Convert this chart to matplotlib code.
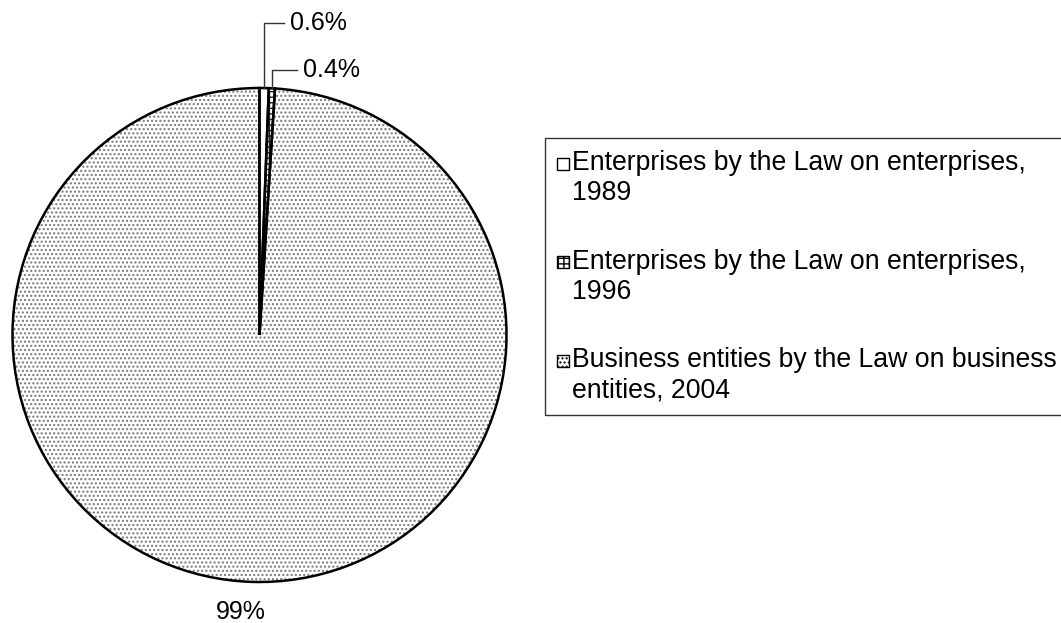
import matplotlib
matplotlib.use("Agg")
import matplotlib.pyplot as plt
from matplotlib.patches import Patch, Rectangle
from matplotlib.legend_handler import HandlerPatch
import numpy as np

plt.rcParams['font.family'] = ['Liberation Sans', 'DejaVu Sans']

categories = ["Enterprises by the Law on enterprises,\n1989",
              "Enterprises by the Law on enterprises,\n1996",
              "Business entities by the Law on business\nentities, 2004"]
values = [0.6, 0.4, 99.0]
value_labels = ["0.6%", "0.4%", "99%"]

hatches = [None, "+++", "...."]
hatch_colors = ["white", "#222222", "#777777"]

W, H = 1061, 623
fig = plt.figure(figsize=(W / 100, H / 100), dpi=100)
cx, cy, r = 259.5, 335, 247
ax = fig.add_axes([(cx - r) / W, (H - cy - r) / H, 2 * r / W, 2 * r / H])

plt.rcParams['hatch.linewidth'] = 1.0
wedges, _ = ax.pie(values, startangle=90, counterclock=False, radius=1,
                   colors=["white"] * 3, wedgeprops=dict(linewidth=0))
for w, h, hc in zip(wedges, hatches, hatch_colors):
    if h:
        w.set_hatch(h)
        w.set_edgecolor(hc)
ax.pie(values, startangle=90, counterclock=False, radius=1,
       wedgeprops=dict(fill=False, edgecolor="black", linewidth=1.8))
ax.set_xlim(-1, 1)
ax.set_ylim(-1, 1)
ax.set_aspect("auto")
ax.axis("off")

fs_lab = 18
label_pos = [(0.123, 1.263), (0.176, 1.073)]
for i, w in enumerate(wedges):
    mid = np.deg2rad((w.theta1 + w.theta2) / 2)
    xr, yr = np.cos(mid), np.sin(mid)
    if i < 2:
        tx, ty = label_pos[i]
        ax.plot([xr, xr, tx - 0.025], [yr, ty, ty], color="#333333", lw=1.0,
                clip_on=False)
        ax.text(tx, ty, value_labels[i], fontsize=fs_lab, ha="left",
                va="center", clip_on=False)
    else:
        ax.text(-0.075, -1.12, value_labels[i], fontsize=fs_lab, ha="center",
                va="center", clip_on=False)

fs = 19.2


def top_square(legend, orig_handle, xdescent, ydescent, width, height,
               fontsize):
    s = 12 / 100 * 72  # points
    return Rectangle((-xdescent + width - s, -ydescent + height - s - 0.8),
                     s, s)


handles = []
for h, hc in zip(hatches, hatch_colors):
    handles.append(Patch(facecolor="white", edgecolor="black", hatch=h,
                         linewidth=1.0))
leg = fig.legend(handles, categories, loc="upper left",
                 bbox_to_anchor=(545 / W, 1 - 138 / H),
                 fontsize=fs, frameon=True, fancybox=False,
                 handlelength=0.45, handleheight=2.3, handletextpad=0.12,
                 labelspacing=1.6, borderpad=0.45, borderaxespad=0,
                 handler_map={Patch: HandlerPatch(patch_func=top_square)})
leg.get_frame().set_edgecolor("black")
leg.get_frame().set_linewidth(1.0)

fig.savefig("out.png", dpi=100)
